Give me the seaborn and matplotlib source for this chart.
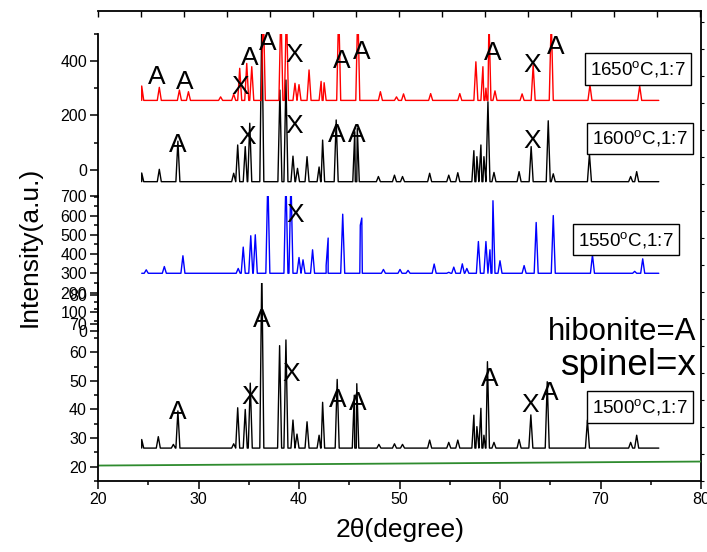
import numpy as np
import matplotlib
matplotlib.use("Agg")
import matplotlib.pyplot as plt
import seaborn as sns
from matplotlib.ticker import MultipleLocator

# styling
sns.set_style("ticks")
plt.rcParams['font.family'] = ['Liberation Sans', 'DejaVu Sans']
plt.rcParams['mathtext.default'] = 'regular'
for key in ['text.color', 'axes.labelcolor', 'xtick.color', 'ytick.color', 'axes.edgecolor']:
    plt.rcParams[key] = 'black'

# ---- data (2theta, intensity) ----
# scan range and baselines
scan_start, scan_end = 24.35, 75.8

base_1500 = 26.5
peaks_1500_pos = [24.35, 26.0, 27.5, 27.95, 33.5, 33.9, 34.65, 35.15, 36.3, 38.07, 38.7, 39.4,
                  39.8, 40.8, 42.0, 42.35, 43.8, 45.5, 45.75, 47.95, 49.5, 50.3, 53.0, 54.9,
                  55.8, 57.4, 57.7, 58.1, 58.4, 58.75, 59.4, 61.9, 63.07, 64.7, 68.7, 73.0, 73.6]
peaks_1500_int = [29.5, 30.5, 27.8, 39.5, 28, 40.6, 40, 49.2, 90, 62.3, 64.3, 36.3,
                  31.4, 35.7, 31, 42.5, 50.5, 45, 49, 27.8, 28, 27.8, 29.3, 28.5,
                  29.3, 38, 34, 40.4, 31, 56.7, 28.5, 29.5, 38.1, 49.7, 36.3, 28.5, 31]

base_1550 = 300
peaks_1550_pos = [24.8, 26.6, 28.45, 33.95, 34.45, 35.2, 35.65, 36.9, 38.7, 39.2, 40.0, 40.4,
                  41.35, 42.7, 42.9, 44.35, 46.1, 46.25, 48.4, 50.05, 50.85, 53.45, 54.9, 55.4,
                  56.25, 56.7, 57.85, 58.6, 59.0, 59.3, 60.0, 62.4, 63.6, 65.3, 69.2, 73.4, 74.2]
peaks_1550_int = [318, 335, 391, 325, 436, 495, 500, 800, 800, 800, 382, 370,
                  422, 340, 483, 607, 550, 587, 320, 320, 315, 348, 305, 332,
                  349, 325, 465, 465, 422, 677, 365, 340, 564, 600, 396, 310, 375]

base_1600 = -44
peaks_1600_pos = [24.35, 26.1, 27.95, 33.5, 33.9, 34.65, 35.1, 36.3, 38.1, 38.7, 39.4, 39.85,
                  40.8, 42.0, 42.35, 43.7, 45.55, 45.8, 47.9, 49.5, 50.3, 53.0, 54.9, 55.8,
                  57.4, 57.7, 58.1, 58.4, 58.8, 59.4, 61.9, 63.1, 64.8, 65.3, 68.9, 73.0, 73.6]
peaks_1600_int = [-12, 1.5, 105, -13, 91, 85, 171, 560, 293, 330, 50, 5,
                  48, 10, 109, 183, 140, 152, -25, -20, -25, -13, -20, -11,
                  70, 48, 91, 48, 250, -10, -7, 85, 180, -15, 58, -25, -7]

base_1650 = 255
peaks_1650_pos = [24.35, 26.1, 28.1, 29.0, 32.2, 33.5, 34.1, 34.8, 35.3, 36.45, 38.2, 38.75,
                  39.6, 40.0, 41.0, 42.2, 42.5, 43.95, 45.85, 48.1, 49.7, 50.4, 53.1, 56.0,
                  57.6, 58.3, 58.6, 58.9, 59.5, 62.2, 63.3, 65.1, 68.95, 73.9]
peaks_1650_int = [308, 303, 293, 287, 268, 278, 373, 391, 379, 600, 600, 600,
                  318, 313, 367, 325, 320, 600, 600, 287, 268, 279, 280, 280,
                  397, 379, 300, 560, 290, 279, 385, 560, 312, 308]

# phase marks: (2theta, height in layer units, letter)
marks_1650_x = [25.87, 28.66, 34.13, 35.12, 36.92, 39.5, 44.28, 46.27, 59.3, 63.18, 65.57]
marks_1650_y = [341, 323, 304, 411, 466, 422, 400, 433, 429, 385, 451]
marks_1650_t = ['A', 'A', 'X', 'A', 'A', 'X', 'A', 'A', 'A', 'X', 'A']

marks_1600_x = [27.96, 34.83, 39.5, 43.78, 45.77, 63.18]
marks_1600_y = [91, 120, 161, 128, 128, 106]
marks_1600_t = ['A', 'X', 'X', 'A', 'A', 'X']

marks_1550_x = [39.6]
marks_1550_y = [604]
marks_1550_t = ['X']

marks_1500_x = [27.96, 35.12, 36.32, 39.2, 43.88, 45.87, 59.0, 62.99, 64.98]
marks_1500_y = [39.1, 44.4, 71.3, 52.4, 43.3, 42.3, 50.7, 41.6, 45.8]
marks_1500_t = ['A', 'X', 'A', 'X', 'A', 'A', 'A', 'X', 'A']

# green reference line
green_x = [20, 80]
green_y = [20.4, 21.8]

W, H = 707, 552
X0, X1 = 98, 701


def px_rect(x0, y0, x1, y1):
    return [x0 / W, 1 - y1 / H, (x1 - x0) / W, (y1 - y0) / H]


def pattern(pos, inten, base, w=0.2):
    # peaks standing on a flat baseline
    xs = [scan_start, scan_end]
    ys = [base, base]
    for p, h in zip(pos, inten):
        xs += [max(p - w, scan_start), p, min(p + w, scan_end)]
        ys += [base, h, base]
    order = np.argsort(xs, kind='stable')
    return np.array(xs)[order], np.array(ys)[order]


fig = plt.figure(figsize=(W / 100, H / 100), dpi=100)

frame = fig.add_axes(px_rect(X0, 11, X1, 481), zorder=0)
axB = fig.add_axes(px_rect(X0, 283, X1, 481), zorder=1)
axM = fig.add_axes(px_rect(X0, 196.3, X1, 331), zorder=2)
axT = fig.add_axes(px_rect(X0, 33.8, X1, 196.9), zorder=3)

# frame: top and right lines only
frame.set_facecolor('none')
for s in ['left', 'bottom']:
    frame.spines[s].set_visible(False)
for s in ['top', 'right']:
    frame.spines[s].set_linewidth(1.3)
frame.set_xlim(0, X1 - X0)
frame.set_ylim(0, 470)
frame.xaxis.tick_top()
frame.yaxis.tick_right()
frame.set_xticks(np.arange(0, X1 - X0, 43))
frame.set_yticks(np.arange(0, 470, 27))
frame.tick_params(axis='x', direction='in', length=4, width=1, labeltop=False)
frame.tick_params(axis='y', direction='out', length=2.5, width=0.8, labelright=False)

lw_tick = dict(width=1.1, labelsize=11.5, pad=2)
for ax, ylim, major, minor in [(axB, (15, 84.2), 10, 5),
                               (axM, (0, 700), 100, 50),
                               (axT, (-100, 500), 200, 100)]:
    ax.set_facecolor('none')
    ax.set_xlim(20, 80)
    ax.set_ylim(*ylim)
    ax.yaxis.set_major_locator(MultipleLocator(major))
    ax.yaxis.set_minor_locator(MultipleLocator(minor))
    ax.spines['top'].set_visible(False)
    ax.spines['right'].set_visible(False)
    ax.spines['left'].set_linewidth(1.3)
    ax.tick_params(axis='y', which='major', direction='out', length=6, **lw_tick)
    ax.tick_params(axis='y', which='minor', direction='out', length=3, width=1.1)

for ax in (axM, axT):
    ax.spines['bottom'].set_visible(False)
    ax.set_xticks([])

axB.spines['bottom'].set_linewidth(1.3)
axB.xaxis.set_major_locator(MultipleLocator(10))
axB.xaxis.set_minor_locator(MultipleLocator(5))
axB.tick_params(axis='x', which='major', direction='out', length=6, **lw_tick)
axB.tick_params(axis='x', which='minor', direction='out', length=3, width=1.1)
axB.set_yticks(np.arange(20, 81, 10))

# patterns
x, y = pattern(peaks_1500_pos, peaks_1500_int, base_1500)
sns.lineplot(x=x, y=y, ax=axB, color='black', lw=1.0, estimator=None, sort=False)
sns.lineplot(x=green_x, y=green_y, ax=axB, color='#2e8b2e', lw=1.3, estimator=None, sort=False)

x, y = pattern(peaks_1550_pos, peaks_1550_int, base_1550)
sns.lineplot(x=x, y=y, ax=axM, color='#0000ff', lw=1.0, estimator=None, sort=False)

x, y = pattern(peaks_1600_pos, peaks_1600_int, base_1600)
sns.lineplot(x=x, y=y, ax=axT, color='black', lw=1.0, estimator=None, sort=False)
x, y = pattern(peaks_1650_pos, peaks_1650_int, base_1650)
sns.lineplot(x=x, y=y, ax=axT, color='#ff0000', lw=1.0, estimator=None, sort=False)

for ax in (axB, axM, axT):
    ax.set_xlabel('')
    ax.set_ylabel('')

# phase letters
for ax, mx, my, mt in [(axT, marks_1650_x, marks_1650_y, marks_1650_t),
                       (axT, marks_1600_x, marks_1600_y, marks_1600_t),
                       (axM, marks_1550_x, marks_1550_y, marks_1550_t),
                       (axB, marks_1500_x, marks_1500_y, marks_1500_t)]:
    for xi, yi, t in zip(mx, my, mt):
        ax.text(xi, yi, t, ha='center', va='center', fontsize=19, clip_on=False)

# sample boxes
box = dict(boxstyle='square,pad=0.3', fc='white', ec='black', lw=1)
for label, (cx, cy) in [('1650$^{o}$C,1:7', (638, 69)),
                        ('1600$^{o}$C,1:7', (640, 138.5)),
                        ('1550$^{o}$C,1:7', (626, 239.5)),
                        ('1500$^{o}$C,1:7', (640, 407))]:
    fig.text(cx / W, 1 - cy / H, label, ha='center', va='center', fontsize=13.5,
             bbox=box, zorder=10)

# legend text for phases (clipped at the right frame line)
frame.text(548 / W, 1 - 340 / H, 'hibonite=A', transform=fig.transFigure,
           ha='left', va='baseline', fontsize=22.5, clip_on=True)
frame.text(560 / W, 1 - 375 / H, 'spinel=x', transform=fig.transFigure,
           ha='left', va='baseline', fontsize=26.5, clip_on=True)

fig.text(30 / W, 1 - 247 / H, 'Intensity(a.u.)', rotation=90, ha='center', va='center',
         fontsize=19)
fig.text(400 / W, 1 - 530 / H, '2\u03b8(degree)', ha='center', va='center', fontsize=19)

fig.savefig('out.png', dpi=100)
